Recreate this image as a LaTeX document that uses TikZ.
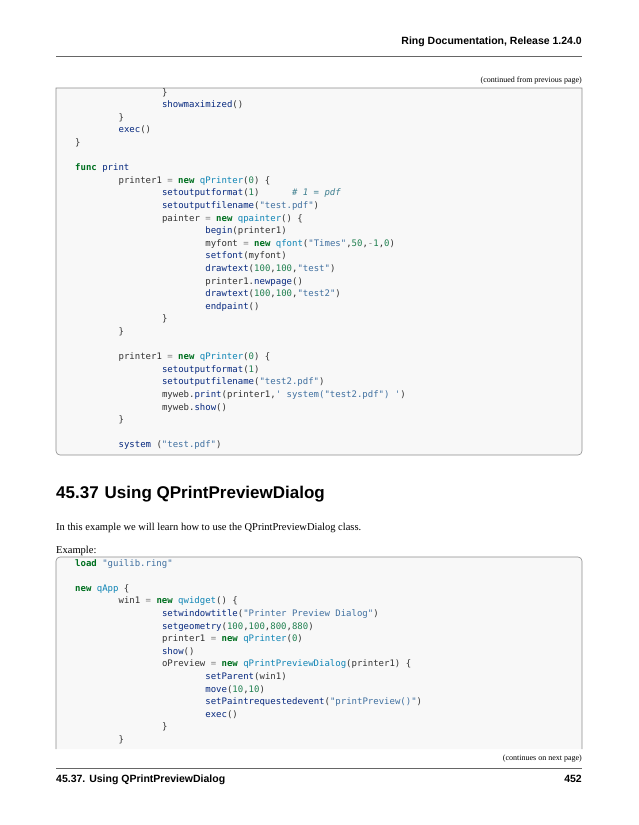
\documentclass[tikz,border=0pt]{standalone}
\usepackage{fontspec}
\setmainfont{Liberation Serif}
\newfontfamily\hsans{Liberation Sans}
\newfontfamily\cmono{DejaVu Sans Mono}
\definecolor{kwc}{HTML}{007020}
\definecolor{fnc}{HTML}{06287E}
\definecolor{clc}{HTML}{0E84B5}
\definecolor{stc}{HTML}{4070A0}
\definecolor{nuc}{HTML}{208050}
\definecolor{cmc}{HTML}{408090}
\definecolor{txc}{HTML}{333333}
\definecolor{boxbg}{HTML}{F8F8F8}
\newcommand{\kw}[1]{\textcolor{kwc}{\bfseries #1}}
\newcommand{\fn}[1]{\textcolor{fnc}{#1}}
\newcommand{\cls}[1]{\textcolor{clc}{#1}}
\newcommand{\str}[1]{\textcolor{stc}{#1}}
\newcommand{\nmb}[1]{\textcolor{nuc}{#1}}
\newcommand{\cmt}[1]{\textcolor{cmc}{\itshape #1}}
\newcommand{\op}[1]{\textcolor{gray}{#1}}
\newcounter{ln}
\newcommand{\codeln}[3]{\stepcounter{ln}\node[codeline] (ln\theln) at ({75+#1*43.4},#2) {#3};}
\begin{document}
\begin{tikzpicture}[x=1pt,y=-1pt,
  codeline/.style={anchor=base west,inner sep=0pt,font=\cmono\fontsize{9}{10}\selectfont,text=txc},
  codebox/.style={draw=black!45,line width=0.6pt,fill=boxbg}]
\useasboundingbox (0,0) rectangle (638,825);
% header
\node[anchor=base east,inner sep=0pt,font=\hsans\bfseries\fontsize{10.5}{12}\selectfont] (hdr) at (582,44) {Ring Documentation, Release 1.24.0};
\draw[line width=0.5pt,black!60] (56,56) -- (582,56);
\node[anchor=base east,inner sep=0pt,font=\fontsize{8}{9}\selectfont] (cont1) at (582,82) {(continued from previous page)};
% box 1
\draw[codebox] (56,88) -- (582,88) [rounded corners=4] -- (582,455) -- (56,455) [sharp corners] -- cycle;
\codeln{2}{95}{\}}
\codeln{2}{107.6}{\fn{showmaximized}()}
\codeln{1}{120.2}{\}}
\codeln{1}{132.8}{\fn{exec}()}
\codeln{0}{145.4}{\}}
\codeln{0}{170.6}{\kw{func} \fn{print}}
\codeln{1}{183.2}{printer1 \op{=} \kw{new} \cls{qPrinter}(\nmb{0}) \{}
\codeln{2}{195.8}{\fn{setoutputformat}(\nmb{1})\ \ \ \ \ \ \cmt{\# 1 = pdf}}
\codeln{2}{208.4}{\fn{setoutputfilename}(\str{"test.pdf"})}
\codeln{2}{221.0}{painter \op{=} \kw{new} \cls{qpainter}() \{}
\codeln{3}{233.6}{\fn{begin}(printer1)}
\codeln{3}{246.2}{myfont \op{=} \kw{new} \cls{qfont}(\str{"Times"},\nmb{50},\op{-}\nmb{1},\nmb{0})}
\codeln{3}{258.8}{\fn{setfont}(myfont)}
\codeln{3}{271.4}{\fn{drawtext}(\nmb{100},\nmb{100},\str{"test"})}
\codeln{3}{284.0}{printer1.\fn{newpage}()}
\codeln{3}{296.6}{\fn{drawtext}(\nmb{100},\nmb{100},\str{"test2"})}
\codeln{3}{309.2}{\fn{endpaint}()}
\codeln{2}{321.8}{\}}
\codeln{1}{334.4}{\}}
\codeln{1}{359.6}{printer1 \op{=} \kw{new} \cls{qPrinter}(\nmb{0}) \{}
\codeln{2}{372.2}{\fn{setoutputformat}(\nmb{1})}
\codeln{2}{384.8}{\fn{setoutputfilename}(\str{"test2.pdf"})}
\codeln{2}{397.4}{myweb.\fn{print}(printer1,\str{' system("test2.pdf") '})}
\codeln{2}{410.0}{myweb.\fn{show}()}
\codeln{1}{422.6}{\}}
\codeln{1}{447.8}{\fn{system} (\str{"test.pdf"})}
% section
\node[anchor=base west,inner sep=0pt,font=\hsans\bfseries\fontsize{17}{20}\selectfont] (sec) at (56,498) {45.37\hspace{6pt}Using QPrintPreviewDialog};
\node[anchor=base west,inner sep=0pt,font=\fontsize{10.5}{12}\selectfont] (p1) at (56,530) {In this example we will learn how to use the QPrintPreviewDialog class.};
\node[anchor=base west,inner sep=0pt,font=\fontsize{10.5}{12}\selectfont] (p2) at (56,553) {Example:};
% box 2
\draw[codebox] (56,749) [rounded corners=4] -- (56,557) -- (582,557) [sharp corners] -- (582,749);
\codeln{0}{566}{\kw{load} \str{"guilib.ring"}}
\codeln{0}{591.2}{\kw{new} \cls{qApp} \{}
\codeln{1}{603.8}{win1 \op{=} \kw{new} \cls{qwidget}() \{}
\codeln{2}{616.4}{\fn{setwindowtitle}(\str{"Printer Preview Dialog"})}
\codeln{2}{629.0}{\fn{setgeometry}(\nmb{100},\nmb{100},\nmb{800},\nmb{880})}
\codeln{2}{641.6}{printer1 \op{=} \kw{new} \cls{qPrinter}(\nmb{0})}
\codeln{2}{654.2}{\fn{show}()}
\codeln{2}{666.8}{oPreview \op{=} \kw{new} \cls{qPrintPreviewDialog}(printer1) \{}
\codeln{3}{679.4}{\fn{setParent}(win1)}
\codeln{3}{692.0}{\fn{move}(\nmb{10},\nmb{10})}
\codeln{3}{704.6}{\fn{setPaintrequestedevent}(\str{"printPreview()"})}
\codeln{3}{717.2}{\fn{exec}()}
\codeln{2}{729.8}{\}}
\codeln{1}{742.4}{\}}
\node[anchor=base east,inner sep=0pt,font=\fontsize{8}{9}\selectfont] (cont2) at (582,760) {(continues on next page)};
% footer
\draw[line width=0.5pt,black!60] (56,768) -- (582,768);
\node[anchor=base west,inner sep=0pt,font=\hsans\bfseries\fontsize{10.5}{12}\selectfont] (ftl) at (56,782) {45.37. Using QPrintPreviewDialog};
\node[anchor=base east,inner sep=0pt,font=\hsans\bfseries\fontsize{10.5}{12}\selectfont] (ftr) at (582,782) {452};
\end{tikzpicture}
\end{document}
